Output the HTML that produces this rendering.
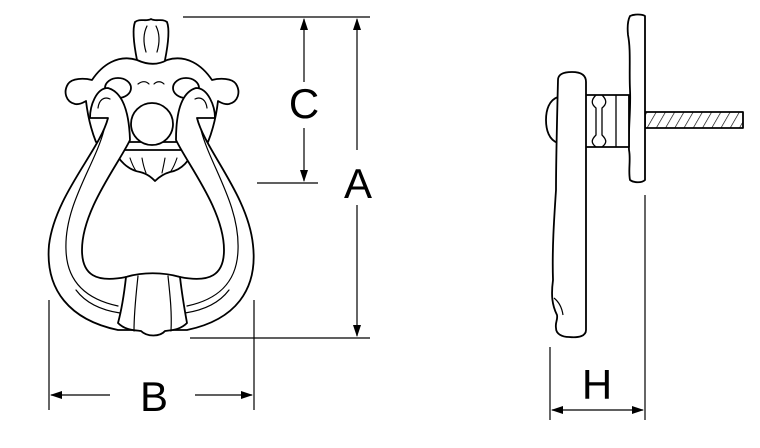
<!DOCTYPE html>
<html><head><style>
html,body{margin:0;padding:0;background:#fff;width:760px;height:448px;overflow:hidden}
svg{display:block}
text{font-family:"Liberation Sans",sans-serif;fill:#000}
</style></head><body>
<svg width="760" height="448" viewBox="0 0 760 448" xmlns="http://www.w3.org/2000/svg">
<defs>
<marker id="ar" markerWidth="12" markerHeight="8" refX="11" refY="4" orient="auto" markerUnits="userSpaceOnUse">
<path d="M0,0 L12,4 L0,8 Z" fill="#000"/></marker>
<pattern id="hatch" width="8" height="8" patternUnits="userSpaceOnUse" patternTransform="rotate(30)">
<line x1="0" y1="0" x2="0" y2="8" stroke="#000" stroke-width="1.3"/></pattern>
</defs>

<g stroke="#000" stroke-width="1.2" fill="none">
<line x1="183" y1="17" x2="370" y2="17"/>
<line x1="257" y1="183" x2="318" y2="183"/>
<line x1="190" y1="338" x2="370" y2="338"/>
<line x1="304" y1="82" x2="304" y2="19" marker-end="url(#ar)"/>
<line x1="304" y1="128" x2="304" y2="181" marker-end="url(#ar)"/>
<line x1="357" y1="150" x2="357" y2="19" marker-end="url(#ar)"/>
<line x1="357" y1="205" x2="357" y2="336" marker-end="url(#ar)"/>
<line x1="49" y1="300" x2="49" y2="410"/>
<line x1="254" y1="300" x2="254" y2="410"/>
<line x1="110" y1="395" x2="51" y2="395" marker-end="url(#ar)"/>
<line x1="195" y1="395" x2="252" y2="395" marker-end="url(#ar)"/>
<line x1="550" y1="347" x2="550" y2="420"/>
<line x1="645" y1="195" x2="645" y2="420"/>
<line x1="597" y1="410" x2="552" y2="410" marker-end="url(#ar)"/>
<line x1="597" y1="410" x2="643" y2="410" marker-end="url(#ar)"/>
</g>
<text x="304" y="118" font-size="42" text-anchor="middle">C</text>
<text x="358" y="198" font-size="42" text-anchor="middle">A</text>
<text x="154" y="411" font-size="42" text-anchor="middle">B</text>
<text x="597" y="399" font-size="42" text-anchor="middle">H</text>

<!-- front view -->
<g stroke="#000" stroke-width="1.8" fill="#fff" stroke-linejoin="round" stroke-linecap="round">
<path d="M137,60 C134,45 132,30 135,22 C140,18 146,22 151,19 C156,22 162,18 167,22 C170,30 168,45 165,60"/>
<path d="M146,52 C143,42 143,34 147,26" fill="none" stroke-width="1.2"/>
<path d="M157,52 C160,42 160,34 156,26" fill="none" stroke-width="1.2"/>
<path d="M137,60 C118,54 102,65 92,80 C84,78 72,78 68,84 C63,92 66,102 75,104 C80,105 84,102 86,101 C88,118 92,132 96,142 L208,142 C212,132 216,118 218,101 C220,102 224,105 229,104 C238,102 241,92 236,84 C232,78 220,78 212,80 C202,65 186,54 167,60 C160,64 150,66 137,60 Z"/>
<ellipse cx="118" cy="88" rx="13" ry="10"/>
<ellipse cx="186" cy="88" rx="13" ry="10"/>
<path d="M138,84 C142,81 146,81 149,84 M154,84 C157,81 161,81 164,84" fill="none" stroke-width="1.2"/>
<path d="M115,150 C118,160 128,170 140,172 C148,174 152,178 155,181 C158,178 163,174 170,172 C182,170 190,160 193,150 Z"/>
<path d="M130,158 C132,164 134,168 136,171 M142,158 C143,164 144,168 146,173 M165,158 C164,164 163,168 162,173 M177,158 C175,164 173,168 171,171" fill="none" stroke-width="1.1"/>
<circle cx="152" cy="124" r="21"/>
<path d="M108,118 C100,150 55,195 49,245 C45,290 70,320 118,330 L187,330 C235,320 258,290 253,245 C248,195 205,150 197,118 L215,118 C215,106 208,88 196,88 C182,92 176,110 176,140 C188,165 224,210 224,250 C224,275 210,283 180,277 C165,274 142,274 126,277 C96,283 82,275 82,250 C82,210 118,165 130,140 C129,110 122,92 108,88 C96,88 90,106 90,118 Z"/>
<path d="M98,108 C99,100 104,96 110,99 M104,130 C95,165 64,205 66,250 C67,285 90,300 118,306" fill="none" stroke-width="1.2"/>
<path d="M207,108 C206,100 201,96 195,99 M201,130 C210,165 240,205 238,250 C237,285 215,300 187,306" fill="none" stroke-width="1.2"/>
<path d="M76,290 C85,302 100,310 120,313 M229,290 C220,302 205,310 185,313" fill="none" stroke-width="1.2"/>
<path d="M126,277 C142,272 163,272 180,277 C182,295 185,312 187,323 C180,330 172,330 165,331 C160,337 147,337 141,331 C133,330 125,330 118,323 C121,312 124,295 126,277 Z"/>
<path d="M138,276 C136,295 134,312 134,331 M168,276 C170,295 172,312 171,331" fill="none" stroke-width="1.2"/>
</g>

<!-- side view -->
<g stroke="#000" stroke-width="1.8" fill="#fff" stroke-linejoin="round">
<rect x="645" y="112" width="98" height="16" fill="url(#hatch)"/>
<path d="M630,16 C634,14 642,14 645,16 L645,180 C642,183 634,183 630,180 C628,170 631,160 629,150 C628,130 631,110 630,90 C629,70 631,50 628,35 C627,25 628,20 630,16 Z"/>
<path d="M585,95 L629,95 L629,147 L585,147 Z"/>
<path d="M596,95 C591,100 591,104 596,108 L596,135 C591,140 591,143 596,147 M602,95 C607,100 607,104 602,108 L602,135 C607,140 607,143 602,147 M616,95 L616,147" fill="none" stroke-width="1.3"/>
<path d="M558,97 C549,100 546,110 546,120 C546,130 549,140 558,143 Z"/>
<path d="M558,80 C558,74 564,72 572,72 C582,72 586,76 586,82 L586,330 C586,336 579,338 569,337 C562,337 556,334 556,328 C555,322 558,320 557,315 C552,305 551,295 553,280 C552,250 554,220 556,190 C556,160 557,120 558,80 Z"/>
<path d="M554,298 C559,302 562,308 563,315" fill="none" stroke-width="1.2"/>
</g>
</svg>
</body></html>
